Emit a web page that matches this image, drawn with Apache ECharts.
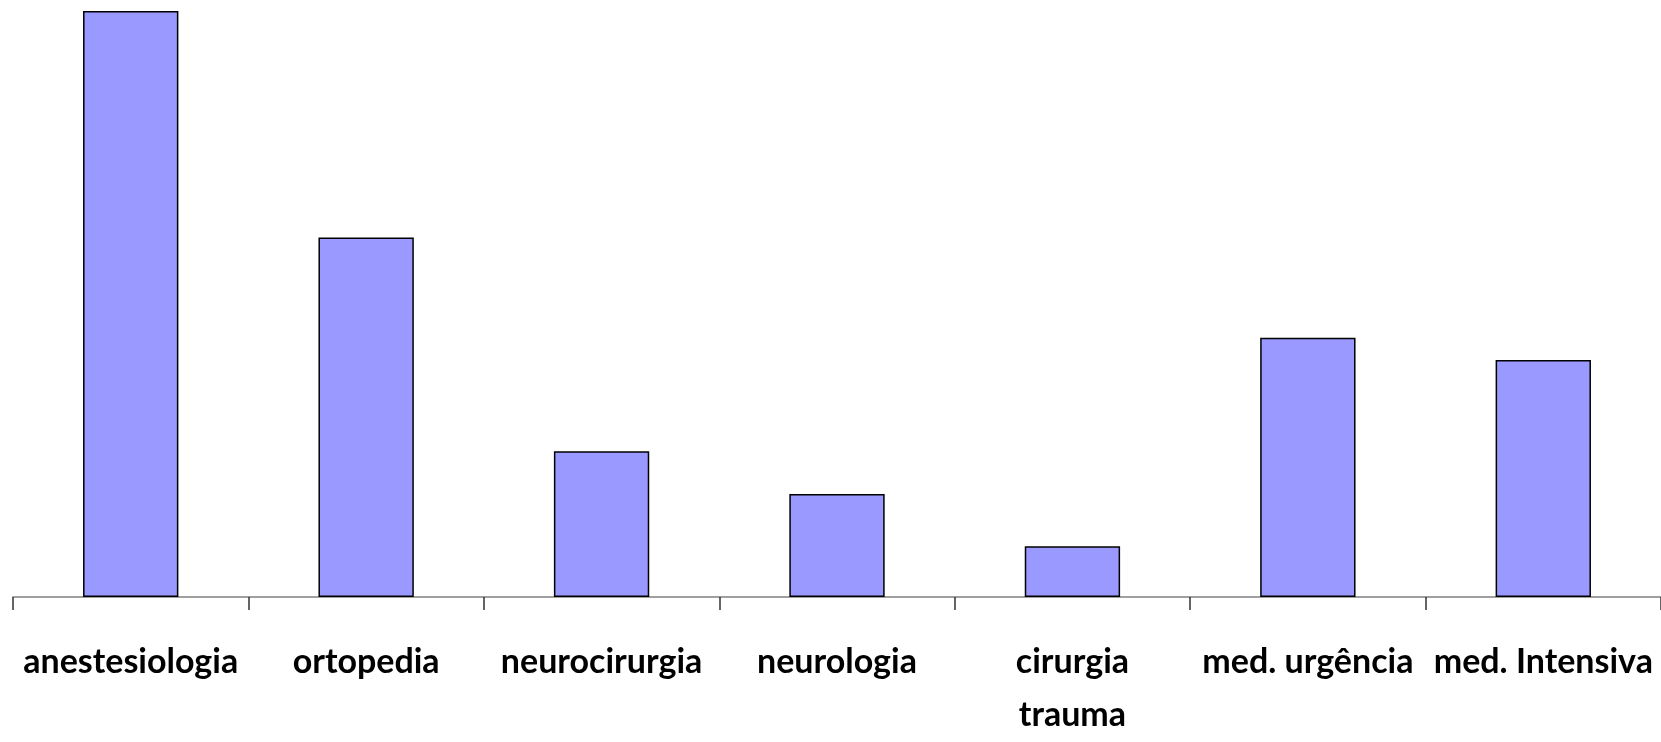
<!DOCTYPE html>
<html>
<head>
<meta charset="utf-8">
<script src="https://cdn.jsdelivr.net/npm/echarts@6/dist/echarts.min.js"></script>
<style>html,body{margin:0;padding:0;background:#fff;width:100%;height:100%;overflow:hidden;}#c{width:100%;height:100%;}</style>
</head>
<body>
<div id="c"></div>
<script>
const categories = ['anestesiologia', 'ortopedia', 'neurocirurgia', 'neurologia', 'cirurgia\ntrauma', 'med. urgência', 'med. Intensiva'];
const values = [45, 27.6, 11.2, 7.9, 3.9, 19.9, 18.2];
const yMax = 45;

const chart = echarts.init(document.getElementById('c'), null, {renderer: 'canvas'});
chart.setOption({
  animation: false,
  backgroundColor: '#ffffff',
  grid: {left: 13, right: -2, top: 11, bottom: 134, containLabel: false},
  xAxis: {
    type: 'category',
    data: categories,
    boundaryGap: true,
    axisLine: {show: true, lineStyle: {color: '#808080', width: 1.5}},
    axisTick: {show: true, length: 13, alignWithLabel: false, lineStyle: {color: '#333', width: 1.5}},
    axisLabel: {
      interval: 0,
      margin: 39,
      fontFamily: 'Lato',
      fontWeight: 'bold',
      fontSize: 34,
      lineHeight: 53,
      color: '#000'
    }
  },
  yAxis: {
    type: 'value',
    min: 0,
    max: yMax,
    show: false,
    splitLine: {show: false}
  },
  series: [{
    type: 'bar',
    data: values,
    barWidth: '40.5%',
    itemStyle: {color: '#9999FF', borderColor: '#000', borderWidth: 1.5}
  }]
});
window.addEventListener('resize', () => chart.resize());
</script>
</body>
</html>
